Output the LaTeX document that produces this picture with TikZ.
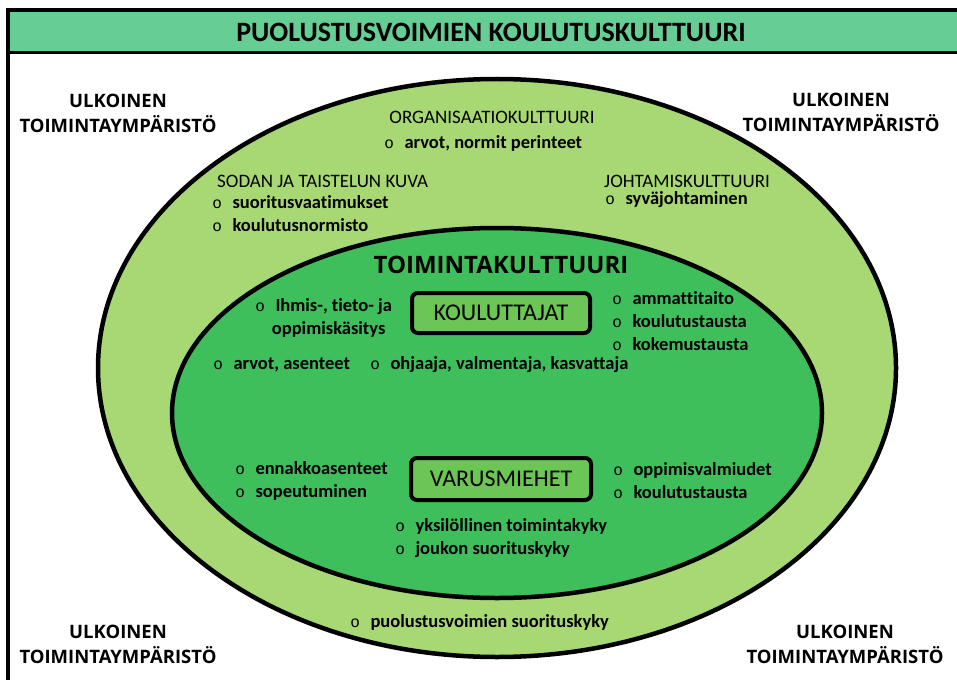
\documentclass[tikz,border=0pt]{standalone}
\usepackage{fontspec}
\setmainfont{Carlito}[Ligatures={NoCommon}]
\newfontfamily\levea{Open Sans}
\newfontfamily\pallofont{Liberation Mono}
\usepackage{tikz}

\definecolor{nauhavari}{HTML}{66CD95}
\definecolor{ulkovari}{HTML}{A8D874}
\definecolor{sisavari}{HTML}{3FBE5C}
\definecolor{ryhmavari}{HTML}{6BC655}

\newcommand{\pallo}{{\pallofont\mdseries\fontsize{16}{16}\selectfont o}\hspace{10.5pt}}

\begin{document}
\begin{tikzpicture}[x=1pt, y=-1pt,
    ymparisto/.style={align=center, font=\levea\bfseries\fontsize{18.5}{25}\selectfont},
    otsikko/.style={font=\fontsize{19}{23}\selectfont},
    kohta/.style={anchor=west, align=left, inner sep=0pt, font=\bfseries\fontsize{18.5}{23}\selectfont},
    ryhma/.style={draw, line width=4pt, rounded corners=6pt, fill=ryhmavari,
        minimum width=178pt, minimum height=40pt, font=\fontsize{24}{28}\selectfont}]
    \useasboundingbox (0, 0) rectangle (957, 679);
    \clip (0, 0) rectangle (957, 679);

    % Frame and title band
    \fill[nauhavari] (8, 10) rectangle (990, 53);
    \draw[line width=4pt] (8, 700) -- (8, 10) -- (990, 10);
    \draw[line width=3pt] (8, 53) -- (990, 53);
    \node[font=\bfseries\fontsize{28}{32}\selectfont] (koulutuskulttuuri) at (491, 32) {PUOLUSTUSVOIMIEN KOULUTUSKULTTUURI};

    % Outer environment in the corners
    \node[ymparisto] (ulkoinen1) at (118, 113) {ULKOINEN\\TOIMINTAYMPÄRISTÖ};
    \node[ymparisto] (ulkoinen2) at (841, 112) {ULKOINEN\\TOIMINTAYMPÄRISTÖ};
    \node[ymparisto] (ulkoinen3) at (118, 644) {ULKOINEN\\TOIMINTAYMPÄRISTÖ};
    \node[ymparisto] (ulkoinen4) at (845, 644) {ULKOINEN\\TOIMINTAYMPÄRISTÖ};

    % Outer and inner ellipse
    \draw[line width=4.5pt, fill=ulkovari] (497, 368) ellipse [x radius=399, y radius=289];
    \draw[line width=4.5pt, fill=sisavari] (497, 413) ellipse [x radius=325, y radius=185];

    % Outer ring: cultures
    \node[otsikko] (organisaatio) at (492, 117) {ORGANISAATIOKULTTUURI};
    \node[kohta] (perinteet) at (384.2, 143) {\pallo arvot, normit perinteet};
    \node[otsikko, anchor=west, inner sep=0pt] (sodankuva) at (217, 181) {SODAN JA TAISTELUN KUVA};
    \node[kohta] (vaatimukset) at (212.2, 213.5) {\pallo suoritusvaatimukset\\\pallo koulutusnormisto};
    \node[otsikko, anchor=west, inner sep=0pt] (johtaminen) at (604, 181) {JOHTAMISKULTTUURI};
    \node[kohta] (syva) at (605.2, 200) {\pallo syväjohtaminen};
    \node[kohta] (suorituskyky) at (350.2, 622) {\pallo puolustusvoimien suorituskyky};

    % Inner ellipse: trainers
    \node[font=\levea\bfseries\fontsize{24}{28}\selectfont] (toiminta) at (501, 265) {TOIMINTAKULTTUURI};
    \node[ryhma] (kouluttajat) at (501, 313) {KOULUTTAJAT};
    \node[kohta] (kasitys) at (255.2, 318) {\pallo Ihmis-, tieto- ja\\\hspace{16.5pt}oppimiskäsitys};
    \node[kohta] (taito) at (612.2, 321) {\pallo ammattitaito\\\pallo koulutustausta\\\pallo kokemustausta};
    \node[kohta] (asenteet) at (213.2, 365) {\pallo arvot, asenteet};
    \node[kohta] (ohjaaja) at (370.2, 365) {\pallo ohjaaja, valmentaja, kasvattaja};

    % Inner ellipse: conscripts
    \node[ryhma, minimum width=180pt, minimum height=42pt] (varusmiehet) at (501, 479) {VARUSMIEHET};
    \node[kohta] (ennakko) at (235.2, 480.5) {\pallo ennakkoasenteet\\\pallo sopeutuminen};
    \node[kohta] (valmiudet) at (613.2, 480.5) {\pallo oppimisvalmiudet\\\pallo koulutustausta};
    \node[kohta] (toimintakyky) at (395.2, 538.5) {\pallo yksilöllinen toimintakyky\\\pallo joukon suorituskyky};
\end{tikzpicture}
\end{document}
